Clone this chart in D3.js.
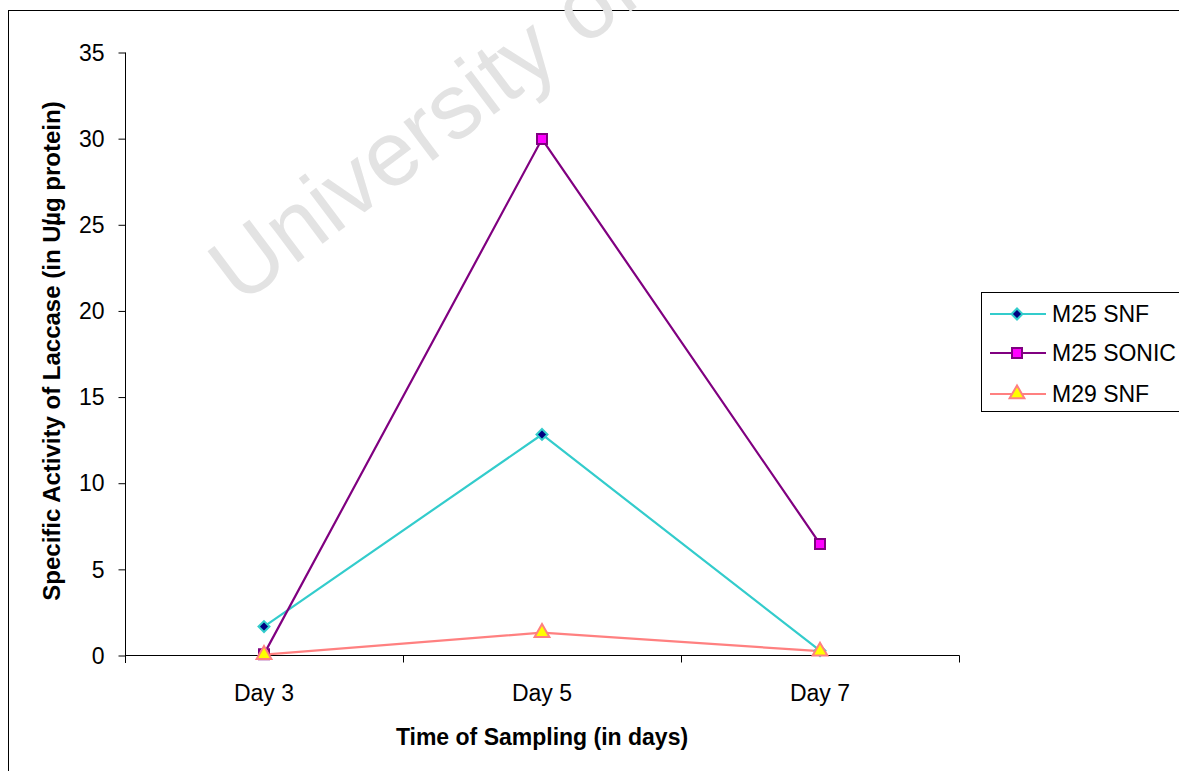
<!DOCTYPE html>
<html>
<head>
<meta charset="utf-8">
<script src="https://cdn.jsdelivr.net/npm/d3@7/dist/d3.min.js"></script>
<style>
  html, body { margin: 0; padding: 0; background: #fff; }
  svg { display: block; font-family: "Liberation Sans", Arial, sans-serif; }
</style>
</head>
<body>
<svg id="chart" width="1179" height="771"></svg>
<script>
// Sampling days and laccase specific activity (U/µg protein)
const days = ["Day 3", "Day 5", "Day 7"];
const m25Snf = [1.65, 12.8, 0.25];
const m25Sonic = [0.05, 29.95, 6.45];
const m29Snf = [0.02, 1.3, 0.22];
const yTicks = [0, 5, 10, 15, 20, 25, 30, 35];
const seriesNames = ["M25 SNF", "M25 SONIC", "M29 SNF"];

// diamond drawn as a square turned 45 degrees
const squareDiamond = {
  draw(ctx, size) {
    const r = Math.sqrt(size / 2);
    ctx.moveTo(0, -r); ctx.lineTo(r, 0); ctx.lineTo(0, r); ctx.lineTo(-r, 0); ctx.closePath();
  }
};

const series = [
  { name: seriesNames[0], values: m25Snf, line: "#33CCCC", fill: "#000080", stroke: "#33CCCC", shape: squareDiamond, size: 60 },
  { name: seriesNames[1], values: m25Sonic, line: "#800080", fill: "#FF00FF", stroke: "#800080", shape: d3.symbolSquare, size: 100 },
  { name: seriesNames[2], values: m29Snf, line: "#FF8080", fill: "#FFFF00", stroke: "#FF8080", shape: d3.symbolTriangle, size: 95 }
];

const svg = d3.select("#chart");

// outer frame
svg.append("rect")
  .attr("x", 8.5).attr("y", 10.5)
  .attr("width", 1200).attr("height", 800)
  .attr("fill", "none").attr("stroke", "#000").attr("stroke-width", 1);

// watermark
svg.append("text")
  .attr("transform", "translate(240,306) rotate(-37)")
  .attr("font-size", 92)
  .attr("fill", "#e3e3e3")
  .text("University of");

const plot = { left: 125, right: 959, top: 52, bottom: 655 };

const x = d3.scaleBand().domain(days).range([plot.left, plot.right]).paddingInner(0).paddingOuter(0);
const y = d3.scaleLinear().domain([0, 35]).range([plot.bottom, plot.top]);

// y axis
const yAxis = svg.append("g")
  .attr("transform", `translate(${plot.left + 0.5},0)`)
  .call(d3.axisLeft(y).tickValues(yTicks).tickSize(7).tickPadding(14).tickFormat(d3.format("d")));
yAxis.select(".domain").attr("d", `M0,${plot.top + 0.5}V${plot.bottom + 8}`).attr("stroke", "#000");
yAxis.selectAll(".tick line").attr("stroke", "#000").attr("transform", "translate(0,0.5)");
yAxis.selectAll(".tick text")
  .attr("font-size", 23).attr("font-family", "Liberation Sans, Arial, sans-serif")
  .attr("fill", "#000").attr("dy", "0.36em");

// x axis with tick marks at category boundaries
const xAxisG = svg.append("g").attr("transform", `translate(0,${plot.bottom + 0.5})`);
xAxisG.append("path")
  .attr("d", `M${plot.left},0H${plot.right + 0.5}`)
  .attr("stroke", "#000").attr("fill", "none");
const boundaries = days.map(d => x(d)).concat([x(days[days.length - 1]) + x.bandwidth()]);
xAxisG.selectAll("line.bound")
  .data(boundaries)
  .join("line")
  .attr("class", "bound")
  .attr("x1", d => Math.round(d) + 0.5).attr("x2", d => Math.round(d) + 0.5)
  .attr("y1", 0).attr("y2", 7)
  .attr("stroke", "#000");
xAxisG.selectAll("text.cat")
  .data(days)
  .join("text")
  .attr("class", "cat")
  .attr("x", d => x(d) + x.bandwidth() / 2)
  .attr("y", 45)
  .attr("text-anchor", "middle")
  .attr("font-size", 23)
  .attr("fill", "#000")
  .text(d => d);

// axis titles
svg.append("text")
  .attr("x", (plot.left + plot.right) / 2)
  .attr("y", 745)
  .attr("text-anchor", "middle")
  .attr("font-size", 23)
  .attr("font-weight", "bold")
  .text("Time of Sampling (in days)");

const yTitle = svg.append("text")
  .attr("transform", `translate(60,351) rotate(-90)`)
  .attr("text-anchor", "middle")
  .attr("font-size", 24)
  .attr("font-weight", "bold");
yTitle.append("tspan").text("Specific Activity of Laccase (in U/");
yTitle.append("tspan").attr("dx", -7).text("µg protein)");

// series lines and markers
const cx = d => x(d) + x.bandwidth() / 2;
const line = d3.line().x(d => cx(d.day)).y(d => y(d.v));

series.forEach(s => {
  const pts = days.map((d, i) => ({ day: d, v: s.values[i] }));
  svg.append("path")
    .datum(pts)
    .attr("d", line)
    .attr("fill", "none")
    .attr("stroke", s.line)
    .attr("stroke-width", 2.2);
});

series.forEach(s => {
  const pts = days.map((d, i) => ({ day: d, v: s.values[i] }));
  svg.append("g").selectAll("path")
    .data(pts)
    .join("path")
    .attr("d", d3.symbol().type(s.shape).size(s.size))
    .attr("transform", d => `translate(${cx(d.day)},${y(d.v)})`)
    .attr("fill", s.fill)
    .attr("stroke", s.stroke)
    .attr("stroke-width", 2);
});

// legend
const legend = svg.append("g");
legend.append("rect")
  .attr("x", 981.5).attr("y", 292.5)
  .attr("width", 220).attr("height", 119)
  .attr("fill", "#fff").attr("stroke", "#000");
const rowY = [314, 353, 394];
series.forEach((s, i) => {
  const g = legend.append("g").attr("transform", `translate(0,${rowY[i]})`);
  g.append("line")
    .attr("x1", 990).attr("x2", 1046).attr("y1", 0).attr("y2", 0)
    .attr("stroke", s.line).attr("stroke-width", 2);
  g.append("path")
    .attr("d", d3.symbol().type(s.shape).size(s.size)())
    .attr("transform", "translate(1017,0)")
    .attr("fill", s.fill).attr("stroke", s.stroke).attr("stroke-width", 2);
  g.append("text")
    .attr("x", 1052).attr("y", 0).attr("dy", "0.36em")
    .attr("font-size", 23)
    .text(s.name);
});
</script>
</body>
</html>
